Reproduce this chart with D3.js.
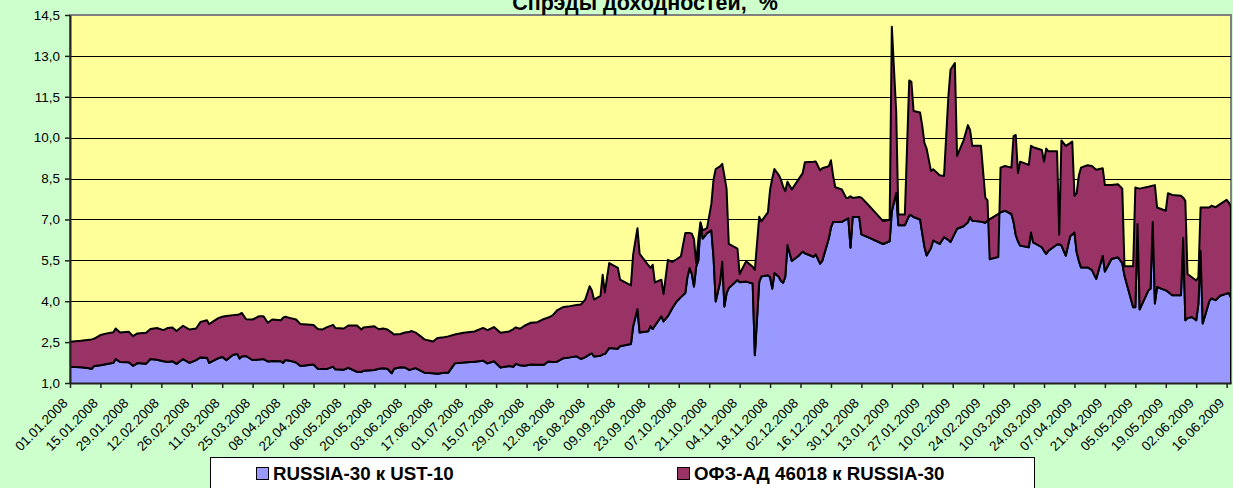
<!DOCTYPE html>
<html>
<head>
<meta charset="utf-8">
<script src="https://cdn.jsdelivr.net/npm/d3@7"></script>
<style>
  html, body { margin: 0; padding: 0; background: #ccffcc; }
  svg { display: block; font-family: Arial, "Liberation Sans", sans-serif; }
</style>
</head>
<body>
<svg id="chart" width="1233" height="488"></svg>
<script>
// observation dates (dd.mm.yyyy)
const dates = [
  "01.01.2008","06.01.2008","09.01.2008","11.01.2008","12.01.2008","15.01.2008","18.01.2008","21.01.2008","22.01.2008","24.01.2008","28.01.2008","30.01.2008",
  "01.02.2008","05.02.2008","07.02.2008","10.02.2008","13.02.2008","15.02.2008","17.02.2008","19.02.2008","22.02.2008","25.02.2008","28.02.2008",
  "01.03.2008","04.03.2008","05.03.2008","09.03.2008","11.03.2008","13.03.2008","16.03.2008","18.03.2008","19.03.2008","20.03.2008","22.03.2008","25.03.2008","28.03.2008","30.03.2008",
  "01.04.2008","03.04.2008","07.04.2008","08.04.2008","09.04.2008","11.04.2008","14.04.2008","16.04.2008","22.04.2008","24.04.2008","26.04.2008","28.04.2008",
  "01.05.2008","02.05.2008","06.05.2008","08.05.2008","12.05.2008","14.05.2008","15.05.2008","20.05.2008","22.05.2008","24.05.2008","26.05.2008","28.05.2008","29.05.2008",
  "01.06.2008","03.06.2008","05.06.2008","06.06.2008","08.06.2008","10.06.2008","12.06.2008","16.06.2008","18.06.2008","21.06.2008","23.06.2008","26.06.2008","30.06.2008",
  "05.07.2008","09.07.2008","11.07.2008","14.07.2008","17.07.2008","21.07.2008","23.07.2008","24.07.2008","26.07.2008","28.07.2008","31.07.2008",
  "03.08.2008","06.08.2008","08.08.2008","10.08.2008","12.08.2008","15.08.2008","18.08.2008","21.08.2008","23.08.2008","25.08.2008","27.08.2008","28.08.2008","29.08.2008",
  "01.09.2008","02.09.2008","03.09.2008","05.09.2008","09.09.2008","10.09.2008","15.09.2008","16.09.2008","18.09.2008","19.09.2008","23.09.2008","24.09.2008","25.09.2008","26.09.2008","29.09.2008","30.09.2008",
  "02.10.2008","04.10.2008","06.10.2008","08.10.2008","10.10.2008","11.10.2008","12.10.2008","13.10.2008","14.10.2008","15.10.2008","16.10.2008","17.10.2008","18.10.2008","20.10.2008","22.10.2008","23.10.2008","24.10.2008","26.10.2008","27.10.2008","28.10.2008","29.10.2008","30.10.2008",
  "03.11.2008","04.11.2008","07.11.2008","10.11.2008","11.11.2008","13.11.2008","14.11.2008","17.11.2008","18.11.2008","19.11.2008","20.11.2008","22.11.2008","23.11.2008","24.11.2008","25.11.2008","26.11.2008","28.11.2008",
  "01.12.2008","03.12.2008","04.12.2008","08.12.2008","09.12.2008","11.12.2008","12.12.2008","15.12.2008","16.12.2008","17.12.2008","18.12.2008","21.12.2008","23.12.2008","24.12.2008","25.12.2008","26.12.2008","29.12.2008","30.12.2008",
  "02.01.2009","09.01.2009","12.01.2009","13.01.2009","15.01.2009","16.01.2009","19.01.2009","21.01.2009","22.01.2009","23.01.2009","26.01.2009","27.01.2009","28.01.2009","29.01.2009","31.01.2009",
  "01.02.2009","04.02.2009","06.02.2009","08.02.2009","09.02.2009","11.02.2009","12.02.2009","15.02.2009","17.02.2009","18.02.2009","19.02.2009","23.02.2009","25.02.2009","26.02.2009","27.02.2009",
  "03.03.2009","04.03.2009","06.03.2009","09.03.2009","10.03.2009","11.03.2009","12.03.2009","13.03.2009","17.03.2009","18.03.2009","19.03.2009","23.03.2009","24.03.2009","25.03.2009","26.03.2009","30.03.2009","31.03.2009",
  "01.04.2009","03.04.2009","05.04.2009","06.04.2009","07.04.2009","08.04.2009","09.04.2009","10.04.2009","13.04.2009","15.04.2009","17.04.2009","20.04.2009","21.04.2009","24.04.2009","27.04.2009","29.04.2009","30.04.2009",
  "04.05.2009","05.05.2009","06.05.2009","07.05.2009","11.05.2009","12.05.2009","13.05.2009","14.05.2009","15.05.2009","19.05.2009","20.05.2009","22.05.2009","26.05.2009","27.05.2009","28.05.2009","29.05.2009","31.05.2009",
  "02.06.2009","03.06.2009","04.06.2009","05.06.2009","08.06.2009","09.06.2009","11.06.2009","13.06.2009","16.06.2009","17.06.2009","18.06.2009"
];

// RUSSIA-30 к UST-10, %
const russiaUst = [
  1.60,1.58,1.55,1.52,1.62,1.65,1.70,1.74,1.88,1.77,1.76,1.63,
  1.73,1.71,1.88,1.85,1.80,1.77,1.80,1.70,1.88,1.74,1.84,
  1.94,1.93,1.74,1.90,1.96,1.84,2.04,2.06,1.90,1.97,1.99,1.84,1.86,1.88,
  1.79,1.81,1.80,1.74,1.84,1.82,1.75,1.62,1.68,1.52,1.51,1.51,
  1.60,1.50,1.49,1.56,1.41,1.40,1.45,1.48,1.52,1.54,1.52,1.36,1.52,
  1.58,1.57,1.48,1.50,1.55,1.46,1.38,1.36,1.34,1.38,1.38,1.72,1.75,
  1.78,1.82,1.72,1.80,1.57,1.62,1.60,1.70,1.65,1.63,1.68,
  1.67,1.67,1.79,1.77,1.78,1.91,1.94,1.98,1.88,1.95,2.05,2.09,1.97,
  2.00,2.05,2.06,2.28,2.26,2.35,2.43,3.07,3.71,2.85,2.90,3.09,2.98,3.10,3.45,3.26,
  3.45,3.74,3.99,4.15,4.30,4.90,5.22,5.00,4.54,5.27,5.50,6.85,6.30,6.50,6.60,5.60,3.99,4.70,5.45,3.81,4.30,4.48,
  4.78,4.70,4.72,4.65,2.02,4.70,4.91,4.95,4.89,4.46,5.03,4.90,4.74,4.68,4.90,6.06,5.48,
  5.66,5.82,5.76,5.63,5.72,5.38,5.48,6.30,6.70,6.91,6.91,6.91,7.00,7.04,5.96,7.09,7.09,6.45,
  6.35,6.10,6.20,7.30,7.97,6.79,6.79,7.15,7.15,7.09,7.00,6.48,6.00,5.68,5.95,
  6.23,6.10,6.35,6.25,6.17,6.50,6.66,6.75,6.90,7.09,6.95,6.92,6.88,6.95,7.00,
  7.20,7.26,7.32,7.20,6.90,6.43,6.20,6.04,5.98,6.52,6.16,5.98,5.85,5.74,5.85,6.08,6.09,
  6.05,5.67,6.38,6.45,6.52,5.80,5.49,5.24,5.24,5.15,4.82,5.67,5.09,5.55,5.61,5.40,4.94,
  3.78,3.78,6.83,3.70,4.40,4.46,6.91,3.92,4.52,4.40,4.35,4.22,4.22,6.32,3.30,3.38,3.42,
  3.30,3.90,5.85,3.18,4.00,4.10,4.04,4.20,4.28,4.30,4.13
];

// ОФЗ-АД 46018 к RUSSIA-30, % (stacked on top of the first series)
const ofzRussia = [
  0.91,0.97,1.03,1.08,1.00,1.11,1.12,1.12,1.12,1.08,1.12,1.09,
  1.09,1.13,1.10,1.17,1.14,1.25,1.24,1.21,1.22,1.22,1.16,
  1.30,1.37,1.42,1.47,1.47,1.62,1.45,1.44,1.62,1.60,1.35,1.49,1.59,1.57,
  1.42,1.52,1.50,1.66,1.59,1.57,1.58,1.54,1.45,1.46,1.45,1.53,
  1.53,1.52,1.51,1.55,1.70,1.56,1.59,1.60,1.45,1.46,1.44,1.49,1.26,
  1.22,1.28,1.39,1.41,1.30,1.27,1.22,1.16,1.31,1.30,1.33,1.06,1.09,
  1.11,1.20,1.22,1.25,1.27,1.27,1.38,1.34,1.34,1.47,1.53,
  1.56,1.68,1.61,1.71,1.88,1.88,1.88,1.88,2.00,2.11,2.50,2.31,2.09,
  2.20,2.92,2.26,3.12,2.96,2.44,2.15,2.63,2.97,2.89,2.42,2.13,2.36,1.59,1.34,1.00,
  2.07,1.70,1.55,1.50,2.20,1.60,1.28,1.48,1.74,0.13,0.76,0.05,0.30,0.18,0.97,2.87,4.86,4.25,3.59,4.79,3.81,1.62,
  1.15,0.30,0.75,0.61,3.13,2.40,2.02,2.31,3.20,4.04,3.82,3.73,3.72,3.52,3.14,2.32,2.62,
  2.80,2.88,3.34,3.49,3.41,3.42,3.40,2.65,2.47,1.69,1.27,1.19,0.79,0.76,1.89,0.70,0.73,1.35,
  1.20,0.84,0.78,6.77,2.99,0.39,0.39,4.95,4.90,3.89,3.92,3.95,3.80,3.92,2.83,
  2.61,2.52,2.24,5.25,6.33,6.24,2.67,3.15,3.56,3.19,2.75,2.78,0.92,0.75,-1.46,
  -1.58,1.64,1.64,1.70,3.16,3.67,2.50,3.08,3.02,3.18,3.49,3.57,3.27,3.86,3.65,3.42,0.35,
  3.85,4.03,3.42,3.41,1.35,2.16,3.11,3.66,3.75,3.81,4.00,3.21,3.17,2.71,2.68,2.73,0.34,
  1.50,4.39,1.32,4.43,3.80,3.76,1.33,4.34,2.92,2.92,3.61,3.68,3.65,1.48,4.38,1.62,1.46,
  1.46,0.98,1.59,4.26,3.44,3.40,3.41,3.36,3.44,3.32,3.32
];

const seriesNames = ["RUSSIA-30 к UST-10", "ОФЗ-АД 46018 к RUSSIA-30"];
const seriesColors = ["#9999ff", "#993366"];

const xTickLabels = [
  "01.01.2008","15.01.2008","29.01.2008","12.02.2008","26.02.2008","11.03.2008","25.03.2008","08.04.2008",
  "22.04.2008","06.05.2008","20.05.2008","03.06.2008","17.06.2008","01.07.2008","15.07.2008","29.07.2008",
  "12.08.2008","26.08.2008","09.09.2008","23.09.2008","07.10.2008","21.10.2008","04.11.2008","18.11.2008",
  "02.12.2008","16.12.2008","30.12.2008","13.01.2009","27.01.2009","10.02.2009","24.02.2009","10.03.2009",
  "24.03.2009","07.04.2009","21.04.2009","05.05.2009","19.05.2009","02.06.2009","16.06.2009"
];
const yTicks = [1.0, 2.5, 4.0, 5.5, 7.0, 8.5, 10.0, 11.5, 13.0, 14.5];

const title = "Спрэды доходностей,  %";

// layout
const plot = { left: 70, right: 1231, top: 15, bottom: 383 };
const parse = d3.timeParse("%d.%m.%Y");

const rows = dates.map((d, i) => ({ date: parse(d), a: russiaUst[i], b: ofzRussia[i] }));

const x = d3.scaleTime()
  .domain([parse(dates[0]), parse(dates[dates.length - 1])])
  .range([plot.left, plot.right]);
const y = d3.scaleLinear().domain([1, 14.5]).range([plot.bottom, plot.top]);

const svg = d3.select("#chart");

svg.append("rect").attr("width", 1233).attr("height", 488).attr("fill", "#ccffcc");

// plot area
svg.append("rect")
  .attr("x", plot.left).attr("y", plot.top)
  .attr("width", plot.right - plot.left).attr("height", plot.bottom - plot.top)
  .attr("fill", "#ffff99")
  .attr("stroke", "#808080").attr("stroke-width", 2);

// gridlines
svg.append("g")
  .selectAll("line")
  .data(yTicks.filter(v => v > 1 && v < 14.5))
  .enter().append("line")
  .attr("x1", plot.left).attr("x2", plot.right)
  .attr("y1", d => Math.round(y(d)) + 0.5).attr("y2", d => Math.round(y(d)) + 0.5)
  .attr("stroke", "#000").attr("stroke-width", 1);

svg.append("clipPath").attr("id", "clip")
  .append("rect")
  .attr("x", plot.left).attr("y", plot.top)
  .attr("width", plot.right - plot.left).attr("height", plot.bottom - plot.top);

// stacked areas
const stacked = d3.stack().keys(["a", "b"])(rows);
const area = d3.area()
  .x(d => x(d.data.date))
  .y0(d => y(d[0]))
  .y1(d => y(d[1]));

svg.append("g").attr("clip-path", "url(#clip)")
  .selectAll("path")
  .data(stacked)
  .enter().append("path")
  .attr("d", area)
  .attr("fill", (d, i) => seriesColors[i])
  .attr("stroke", "#000")
  .attr("stroke-width", 2)
  .attr("stroke-linejoin", "round");

// y axis
const yAxis = svg.append("g")
  .attr("transform", `translate(${plot.left},0)`)
  .call(d3.axisLeft(y)
    .tickValues(yTicks)
    .tickSize(5)
    .tickSizeOuter(0)
    .tickPadding(5)
    .tickFormat(d => d3.format(".1f")(d).replace(".", ",")));

// x axis
const xAxis = svg.append("g")
  .attr("transform", `translate(0,${plot.bottom})`)
  .call(d3.axisBottom(x)
    .tickValues(xTickLabels.map(parse))
    .tickSize(5)
    .tickSizeOuter(0)
    .tickFormat(d3.timeFormat("%d.%m.%Y")));

xAxis.selectAll("text")
  .attr("x", 0).attr("y", 0).attr("dy", 0)
  .attr("text-anchor", "end")
  .attr("transform", "translate(-2,21) rotate(-45)");

[xAxis, yAxis].forEach(g => {
  g.select(".domain").attr("stroke", "#222").attr("stroke-width", 2);
  g.selectAll(".tick line").attr("stroke", "#222").attr("stroke-width", 1.5);
  g.selectAll("text")
    .attr("fill", "#000")
    .style("font-family", "Arial, 'Liberation Sans', sans-serif")
    .style("font-size", "13.5px");
});

// title (cut off at the top, as in the original)
svg.append("text")
  .attr("x", 645).attr("y", 9.5)
  .attr("text-anchor", "middle")
  .attr("xml:space", "preserve")
  .style("white-space", "pre")
  .style("font-size", "21.5px")
  .style("font-weight", "bold")
  .text(title);

// legend
const legend = svg.append("g");
legend.append("rect")
  .attr("x", 210.5).attr("y", 457.5)
  .attr("width", 824).attr("height", 40)
  .attr("fill", "#fff").attr("stroke", "#000");

const legendX = [256, 677];
const item = legend.selectAll("g.item")
  .data(seriesNames)
  .enter().append("g")
  .attr("class", "item")
  .attr("transform", (d, i) => `translate(${legendX[i]},0)`);

item.append("rect")
  .attr("x", 0.5).attr("y", 467.5)
  .attr("width", 12).attr("height", 12)
  .attr("fill", (d, i) => seriesColors[i])
  .attr("stroke", "#000");

item.append("text")
  .attr("x", 17).attr("y", 480)
  .style("font-size", "18.7px")
  .style("font-weight", "bold")
  .text(d => d);
</script>
</body>
</html>
